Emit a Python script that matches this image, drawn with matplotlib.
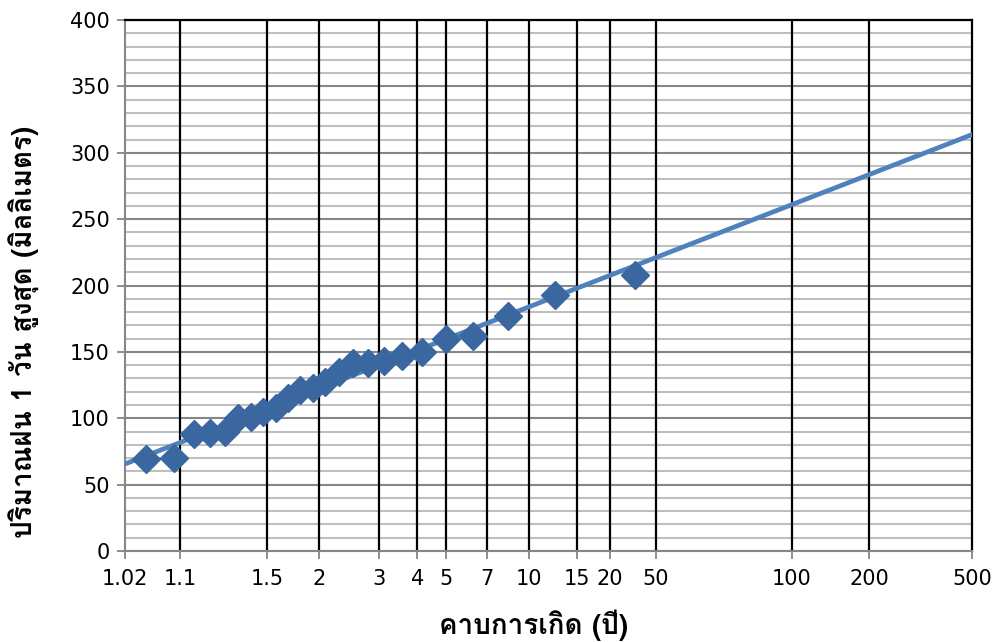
import numpy as np
import matplotlib
matplotlib.use("Agg")
import matplotlib.pyplot as plt
from matplotlib import font_manager
from matplotlib.ft2font import FT2Font

# return period (years), Weibull plotting positions, n = 24
return_period = [1.04, 1.087, 1.136, 1.19, 1.25, 1.316, 1.389, 1.471,
                 1.5625, 1.667, 1.786, 1.923, 2.083, 2.273, 2.5, 2.778,
                 3.125, 3.571, 4.167, 5.0, 6.25, 8.333, 12.5, 25.0]
# annual max 1-day rainfall (mm)
rain_max = [69, 70, 88, 89, 90, 100, 101, 105, 108, 115, 121, 123,
            127, 135, 142, 142, 143, 147, 150, 160, 162, 177, 193, 208]

tick_T = [1.02, 1.1, 1.5, 2, 3, 4, 5, 7, 10, 15, 20, 30, 100, 200, 500]
tick_labels = ["1.02", "1.1", "1.5", "2", "3", "4", "5", "7", "10", "15",
               "20", "50", "100", "200", "500"]

XLABEL = "คาบการเกิด (ปี)"
YLABEL = "ปริมาณฝน 1 วัน สูงสุด (มิลลิเมตร)"


def thai_family():
    for f in font_manager.fontManager.ttflist:
        try:
            if 0x0E1B in FT2Font(f.fname).get_charmap():
                return f.name
        except Exception:
            pass
    return "DejaVu Sans"


THAI = thai_family()
plt.rcParams["font.family"] = ["DejaVu Sans"]


def gumbel(T):
    T = np.asarray(T, dtype=float)
    return -np.log(-np.log(1.0 - 1.0 / T))


def gumbel_inv(y):
    y = np.asarray(y, dtype=float)
    return 1.0 / (1.0 - np.exp(-np.exp(-y)))


fig = plt.figure(figsize=(10.06, 6.42), dpi=100)
ax = fig.add_axes([0.1243, 0.1417, 0.8419, 0.8271])
ax.set_xscale("function", functions=(gumbel, gumbel_inv))
ax.set_xlim(1.02, 500)
ax.set_ylim(0, 400)

# horizontal grid
ax.set_yticks(np.arange(0, 401, 50))
ax.set_yticks(np.arange(0, 401, 10), minor=True)
ax.grid(axis="y", which="minor", color="#bfbfbf", lw=1.5)
ax.grid(axis="y", which="major", color="#868686", lw=1.5)
ax.set_axisbelow(True)

# vertical lines at each return period tick, on top of the horizontal grid
ax.set_xticks(tick_T)
ax.set_xticks([], minor=True)
ax.set_xticklabels(tick_labels)
for t in tick_T[1:-1]:
    ax.axvline(t, color="black", lw=1.6, zorder=1)

# trend line (linear in Gumbel reduced variate)
coef = np.polyfit(gumbel(return_period), rain_max, 1)
line_T = np.array([1.02, 500])
ax.plot(line_T, np.polyval(coef, gumbel(line_T)), color="#4f81bd", lw=3.4,
        solid_capstyle="round", zorder=3)

ax.plot(return_period, rain_max, ls="none", marker="D", ms=14,
        color="#3a679f", mec="#3a679f", zorder=4, clip_on=False)

for side in ("left", "bottom"):
    ax.spines[side].set_color("#868686")
    ax.spines[side].set_linewidth(1.5)
for side in ("top", "right"):
    ax.spines[side].set_color("black")
    ax.spines[side].set_linewidth(1.6)

ax.tick_params(axis="y", which="major", direction="out", length=6,
               color="#868686", width=1.3, labelsize=15, pad=5)
ax.tick_params(axis="y", which="minor", length=0)
ax.tick_params(axis="x", which="major", direction="out", length=6,
               color="#868686", width=1.3, labelsize=15, pad=7)

ax.set_xlabel(XLABEL, fontsize=20, fontweight="bold",
              family=[THAI, "DejaVu Sans"], va="center")
ax.set_ylabel(YLABEL, fontsize=20, fontweight="bold",
              family=[THAI, "DejaVu Sans"], va="center")
ax.xaxis.set_label_coords(0.482, -0.139)
ax.yaxis.set_label_coords(-0.12, 0.412)

fig.savefig("out.png", dpi=100, facecolor="white")
